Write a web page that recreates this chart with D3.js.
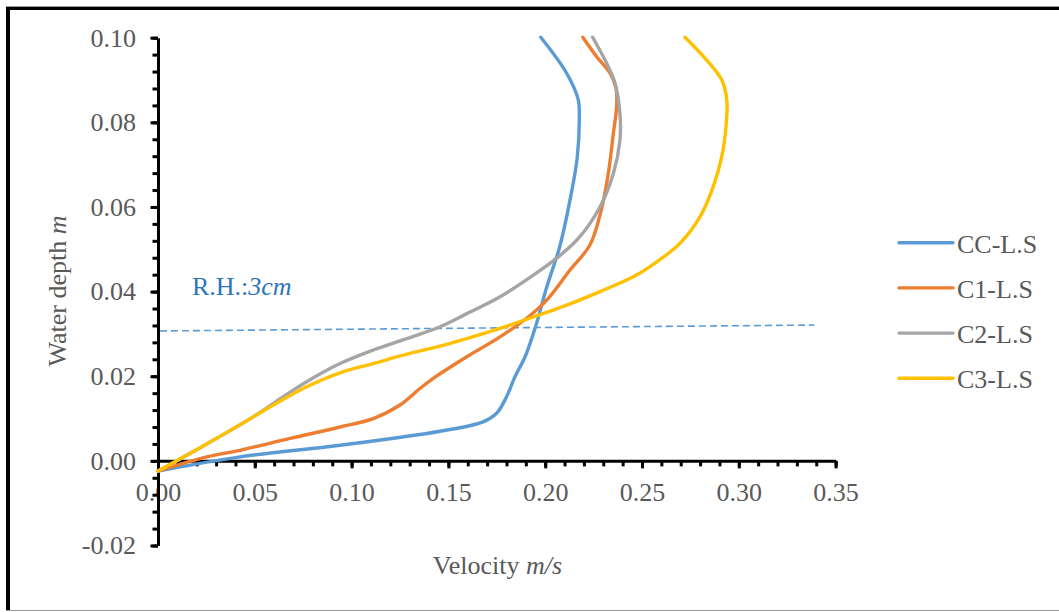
<!DOCTYPE HTML>
<html>
  <head>
    <meta charset='utf-8'>
    <title>Velocity profiles</title>
    <script src='https://d3js.org/d3.v7.min.js'></script>
  </head>
  <style>
    body {margin:0; background:white;}
    .tick text, .lbl {font-family:'Liberation Serif','Times New Roman',serif; font-size:26px; fill:#595959;}
  </style>
  <body>
    <svg id='chart'></svg>
<script>
  // velocity (m/s) and water depth (m)
  var ccV=[0,0.0424,0.094,0.1457,0.1679,0.175,0.180,0.1844,0.1896,0.1956,0.2008,0.2075,0.2128,0.2166,0.2176,0.2171,0.2111,0.1977];
  var ccD=[-0.0024,0.00095,0.0037,0.0070,0.0092,0.0113,0.0151,0.0199,0.0246,0.0326,0.0411,0.0506,0.0616,0.0719,0.0822,0.0853,0.0916,0.1001];
  var c1V=[0,0.0252,0.0424,0.0682,0.094,0.1112,0.125,0.1353,0.1422,0.1595,0.1767,0.1904,0.2008,0.2128,0.2231,0.2288,0.2326,0.2352,0.2369,0.2366,0.2335,0.2266,0.2194];
  var c1D=[-0.0024,0.00095,0.0025,0.0053,0.0080,0.0100,0.0132,0.0171,0.0195,0.0246,0.0293,0.0337,0.0380,0.0451,0.0510,0.0590,0.0679,0.0774,0.0837,0.0880,0.0916,0.0955,0.1001];
  var c2V=[0,0.0252,0.0492,0.0596,0.0768,0.094,0.1112,0.1285,0.1457,0.1595,0.1767,0.1939,0.2059,0.2170,0.2283,0.2352,0.2386,0.2386,0.2361,0.2318,0.2245];
  var c2D=[-0.0024,0.0040,0.0104,0.0136,0.0187,0.0230,0.0262,0.0289,0.0317,0.0348,0.0388,0.0439,0.0479,0.0525,0.0600,0.0679,0.0758,0.0821,0.0892,0.0939,0.1001];
  var c3V=[0,0.0252,0.0492,0.0596,0.0768,0.094,0.1112,0.1285,0.1457,0.1595,0.1767,0.1939,0.2111,0.2283,0.2455,0.2541,0.2696,0.2800,0.2868,0.2912,0.2934,0.2938,0.2912,0.2834,0.2722];
  var c3D=[-0.0024,0.0040,0.0104,0.0132,0.0175,0.0208,0.0230,0.0252,0.0271,0.0289,0.0313,0.0340,0.0368,0.0400,0.0435,0.0459,0.0514,0.0577,0.0648,0.0719,0.0790,0.0853,0.0900,0.0947,0.1001];
  var names=['CC-L.S','C1-L.S','C2-L.S','C3-L.S'];
  var colors=['#5B9BD5','#ED7D31','#A5A5A5','#FFC000'];
  var rhV=[0.001,0.339], rhD=[0.0307,0.0321];
  var xTicks=[0,0.05,0.10,0.15,0.20,0.25,0.30,0.35];
  var yTicks=[-0.02,0,0.02,0.04,0.06,0.08,0.10];

  var W=1059, H=612;
  var svg=d3.select('#chart').attr('width',W).attr('height',H);
  var x=d3.scaleLinear().domain([0,0.35]).range([158,835.6]),
      y=d3.scaleLinear().domain([-0.02,0.10]).range([545.5,37.7]);

  // frame
  svg.append('line').attr('x1',6).attr('x2',W).attr('y1',6.5).attr('y2',6.5)
     .attr('stroke','#999').attr('stroke-width',1);
  svg.append('line').attr('x1',6).attr('x2',W).attr('y1',8.5).attr('y2',8.5)
     .attr('stroke','black').attr('stroke-width',3);
  svg.append('line').attr('x1',8).attr('x2',8).attr('y1',7).attr('y2',610)
     .attr('stroke','black').attr('stroke-width',4);
  svg.append('line').attr('x1',6).attr('x2',W).attr('y1',610.5).attr('y2',610.5)
     .attr('stroke','#999').attr('stroke-width',1);

  var fmt=d=>d.toFixed(2);
  // x axis: minor then major
  svg.append('g').attr('transform',`translate(0,${y(0)})`)
     .call(d3.axisBottom(x).tickValues(d3.range(0,36).map(i=>i*0.01)).tickSize(5.5).tickSizeOuter(0).tickFormat(''))
     .call(g=>g.select('.domain').remove())
     .call(g=>g.selectAll('line').attr('stroke','black').attr('stroke-width',3));
  svg.append('g').attr('transform',`translate(0,${y(0)})`)
     .call(d3.axisBottom(x).tickValues(xTicks).tickSize(7.5).tickSizeOuter(0).tickPadding(14).tickFormat(fmt))
     .call(g=>g.select('.domain').attr('stroke','black').attr('stroke-width',3))
     .call(g=>g.selectAll('line').attr('stroke','black').attr('stroke-width',3));
  // y axis
  svg.append('g').attr('transform',`translate(${x(0)},0)`)
     .call(d3.axisLeft(y).tickValues(d3.range(-5,26).map(i=>i*0.004)).tickSize(5.5).tickSizeOuter(0).tickFormat(''))
     .call(g=>g.select('.domain').remove())
     .call(g=>g.selectAll('line').attr('stroke','black').attr('stroke-width',3));
  svg.append('g').attr('transform',`translate(${x(0)},0)`)
     .call(d3.axisLeft(y).tickValues(yTicks).tickSize(7.5).tickSizeOuter(0).tickPadding(14.5).tickFormat(fmt))
     .call(g=>g.select('.domain').attr('stroke','black').attr('stroke-width',3))
     .call(g=>g.selectAll('line').attr('stroke','black').attr('stroke-width',3));
  svg.selectAll('.tick text').attr('fill','#595959').attr('font-family',null).attr('font-size',null);

  // axis titles
  var xt=svg.append('text').attr('class','lbl').attr('x',497.5).attr('y',574).attr('text-anchor','middle');
  xt.append('tspan').text('Velocity ');
  xt.append('tspan').attr('font-style','italic').text('m/s');
  var yt=svg.append('text').attr('class','lbl').attr('text-anchor','middle')
     .attr('transform','translate(66,291) rotate(-90)');
  yt.append('tspan').text('Water depth ');
  yt.append('tspan').attr('font-style','italic').text('m');

  // roughness height marker
  svg.append('path').datum(d3.zip(rhV,rhD))
     .attr('d',d3.line().x(d=>x(d[0])).y(d=>y(d[1])))
     .attr('stroke','#5B9BD5').attr('stroke-width',1.6).attr('stroke-dasharray','7,4').attr('fill','none');
  var rh=svg.append('text').attr('class','lbl').attr('x',x(0.0175)).attr('y',y(0.0393)).style('fill','#2E75B6');
  rh.append('tspan').text('R.H.:');
  rh.append('tspan').attr('font-style','italic').text('3cm');

  // profiles
  var series=[d3.zip(ccV,ccD),d3.zip(c1V,c1D),d3.zip(c2V,c2D),d3.zip(c3V,c3D)];
  var line=d3.line().curve(d3.curveCatmullRom.alpha(0.5))
             .x(d=>x(d[0])).y(d=>y(d[1]));
  series.forEach(function(s,i) {
    svg.append('path').datum(s).attr('d',line)
       .attr('stroke',colors[i]).attr('stroke-width',3.4)
       .attr('stroke-linecap','round').attr('stroke-linejoin','round').attr('fill','none');
  });

  // legend
  var leg=svg.append('g').selectAll('g').data(names).join('g')
     .attr('transform',(d,i)=>`translate(899,${242.7+i*45.2})`);
  leg.append('line').attr('x1',0).attr('x2',54)
     .attr('stroke',(d,i)=>colors[i]).attr('stroke-width',3.4).attr('stroke-linecap','round');
  leg.append('text').attr('class','lbl').attr('x',58).attr('y',10).text(d=>d);
</script>
  </body>
</html>
